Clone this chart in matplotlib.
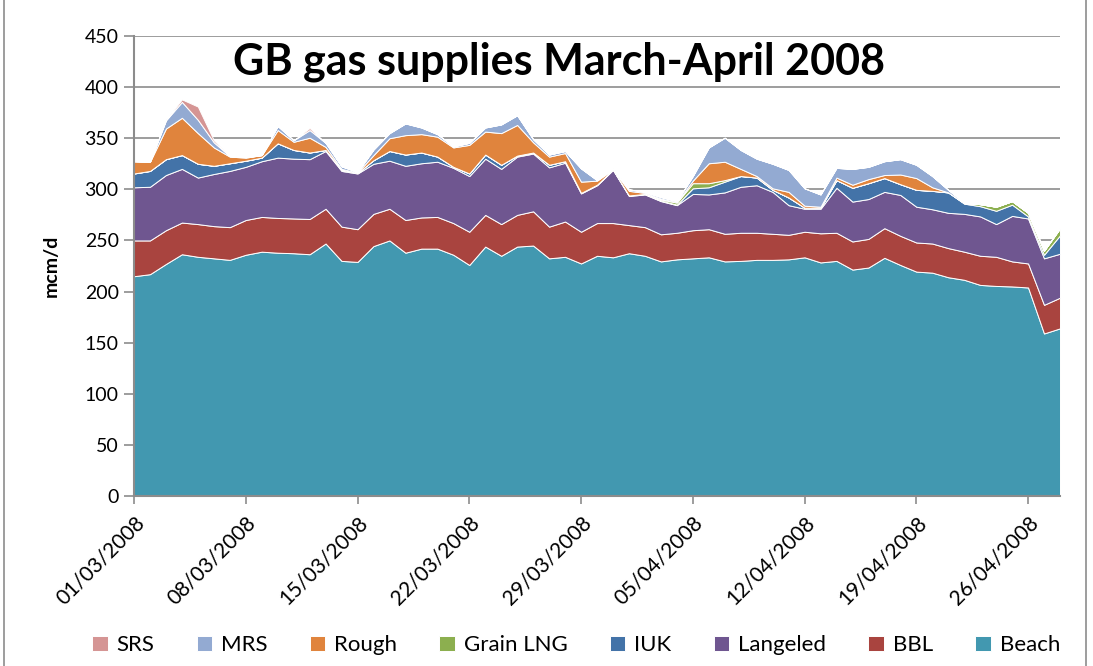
import matplotlib
matplotlib.use('Agg')
import matplotlib.pyplot as plt
import matplotlib.dates as mdates
from matplotlib.patches import Rectangle
import pandas as pd

plt.rcParams['font.family'] = ['Lato', 'DejaVu Sans']

# daily supplies, mcm/d, 01/03/2008 - 28/04/2008
dates = pd.date_range('2008-03-01', '2008-04-28', freq='D')

beach = [215, 217, 227, 236.5, 234, 232.5, 231, 236, 239, 238,
         237.5, 236.5, 247, 230, 229, 244.5, 250, 238, 242, 242,
         236, 226, 244, 235, 244, 245, 232.5, 234, 227.5, 235,
         233.5, 237.5, 235, 229.5, 231.5, 232.5, 233.5, 229.5, 230, 231,
         231, 231.5, 233.5, 228.5, 230, 221.5, 223.5, 233, 226, 219.5,
         218.5, 214, 211.5, 206.5, 205.5, 205, 204, 159, 164]
bbl = [35, 33, 33, 31, 32, 31.5, 32, 34, 34, 34,
       34, 34.5, 34, 33.5, 32, 31.5, 31, 32, 30.5, 31,
       31, 32.5, 31, 31, 31, 33.5, 31, 34.5, 31, 32,
       33.5, 27.5, 28, 26.5, 26, 27.5, 27.5, 27, 27.5, 26.5,
       25.5, 24, 25, 28.5, 27.5, 27.5, 28, 29, 28.5, 28.5,
       28.5, 28.5, 27.5, 28.5, 28.5, 24.5, 23.5, 28, 30]
langeled = [52, 52.5, 54, 52.5, 45.5, 51, 55, 52, 54.5, 59,
            58.5, 58.5, 56.5, 54.5, 54.5, 49, 47, 53, 53, 54,
            54, 54.5, 55, 54, 57, 56.5, 58, 57.5, 37.5, 37,
            52, 28.5, 32, 32.5, 27, 35.5, 34, 40.5, 45, 46.5,
            41, 29, 22.5, 24, 44, 39, 39, 35.5, 40, 35,
            33.5, 34.5, 37, 38.5, 32, 44.5, 44, 45.5, 43]
iuk = [13.5, 15.5, 15.5, 13.5, 13.5, 8, 7.5, 6, 3.5, 14,
       8.5, 6.5, 1, 1, 0.5, 3.5, 9.5, 11, 10.5, 5,
       1, 2.5, 4, 4, 1, 1, 2.5, 1.5, 0.5, 0.5,
       0.5, 0.5, 0.5, 0.5, 0.5, 5.5, 7, 10.5, 10.5, 7.5,
       2, 7.5, 1, 1, 7.5, 13.5, 15.5, 13.5, 10.5, 16.5,
       18, 20, 10, 10, 13, 11, 2, 3.5, 18]
grain_lng = [0, 0, 0, 0, 0, 0, 0, 0, 0, 0,
             0, 0, 0, 0, 0, 0, 0, 0, 0, 0,
             0, 0, 0, 0, 0, 0, 0, 0, 0, 0,
             0, 0, 0, 1, 2, 5, 4, 1.5, 0, 0,
             0, 0, 0, 0, 0, 0, 0, 0, 0, 0,
             0, 0, 0.5, 2, 4, 3.5, 3.5, 4, 7]
rough = [12, 9, 30, 36.5, 30, 18, 6.5, 3, 2.5, 13,
         8, 14.5, 3, 1, 0.5, 5, 12.5, 19, 18, 19.5,
         19, 28, 22.5, 31, 30, 10, 8, 8, 11, 4,
         0, 4.5, 1, 1, 0.5, 2.5, 19.5, 18, 7, 1.5,
         1.5, 5.5, 2, 1, 2.5, 3, 4, 3, 9.5, 11.5,
         3.5, 0, 0, 0, 0, 0, 0, 0, 0]
mrs = [0, 0, 8, 15.5, 13, 5, 0.5, 0.5, 0, 4,
       1.5, 7.5, 4, 2.5, 0.5, 5.5, 5, 11.5, 6.5, 2.5,
       1, 2, 4, 8.5, 9.5, 3, 2, 2, 13, 0.5,
       1, 1.5, 1, 1.5, 1, 4.5, 15.5, 23.5, 18.5, 17,
       24, 21.5, 17, 12, 9.5, 15.5, 12, 13.5, 15, 13,
       11, 2.5, 0.5, 0, 0, 0, 0, 0, 0]
srs = [0, 0, 0.5, 2.5, 13, 2, 0, 0, 0, 0,
       0, 2, 0, 0, 0, 0, 0, 0, 0, 0,
       0, 0, 0, 0, 0, 0, 0, 0, 0, 0,
       0, 0, 0, 0, 0, 0, 0, 0, 0, 0,
       0, 0, 0, 0, 0, 0, 0, 0, 0, 0,
       0, 0, 0, 0, 0, 0, 0, 0, 0.5]

names = ['Beach', 'BBL', 'Langeled', 'IUK', 'Grain LNG', 'Rough', 'MRS', 'SRS']
colors = ['#4298B0', '#A9443F', '#6F5690', '#4373A8', '#8CAF4F', '#E0843D', '#93AAD2', '#D59594']

fig = plt.figure(figsize=(10.93, 6.66), dpi=100)
ax = fig.add_axes([134 / 1093, 1 - 496 / 666, 926 / 1093, 460 / 666])

polys = ax.stackplot(dates, beach, bbl, langeled, iuk, grain_lng, rough, mrs, srs,
                     labels=names, colors=colors, edgecolor='white', linewidth=0.7)

ax.set_ylim(0, 450)
ax.set_yticks(range(0, 451, 50))
ax.set_xlim(dates[0], dates[-1])
ax.set_xticks(dates[::7])
ax.xaxis.set_major_formatter(mdates.DateFormatter('%d/%m/%Y'))
ax.grid(axis='y', color='#8c8c8c', linewidth=1.2)
ax.set_axisbelow(True)

for s in ['top', 'right']:
    ax.spines[s].set_visible(False)
for s in ['left', 'bottom']:
    ax.spines[s].set_color('#8c8c8c')
    ax.spines[s].set_linewidth(1.5)
ax.tick_params(axis='y', direction='out', length=7, color='#8c8c8c', width=1.2,
               labelsize=14, pad=4)
ax.tick_params(axis='x', direction='inout', length=12, color='#8c8c8c', width=1.2,
               labelsize=15, pad=6)
for lbl in ax.get_xticklabels():
    lbl.set_rotation(45)
    lbl.set_ha('right')
    lbl.set_rotation_mode('anchor')

ax.set_ylabel('mcm/d', fontsize=14, fontweight='bold', labelpad=18)
ax.text(0.459, 0.945, 'GB gas supplies March-April 2008', transform=ax.transAxes,
        ha='center', va='center', fontsize=31, fontweight='bold')

handles = polys[::-1]
fig.legend(handles, names[::-1], loc='center', bbox_to_anchor=(0.527, 0.031), ncol=8,
           frameon=False, fontsize=16, handlelength=0.7, handleheight=0.7,
           columnspacing=1.9, handletextpad=0.4)

fig.patches.append(Rectangle((0.004, -0.01), 0.99, 1.02, transform=fig.transFigure,
                             fill=False, edgecolor='#8c8c8c', linewidth=1.2))

fig.savefig('out.png', dpi=100)
